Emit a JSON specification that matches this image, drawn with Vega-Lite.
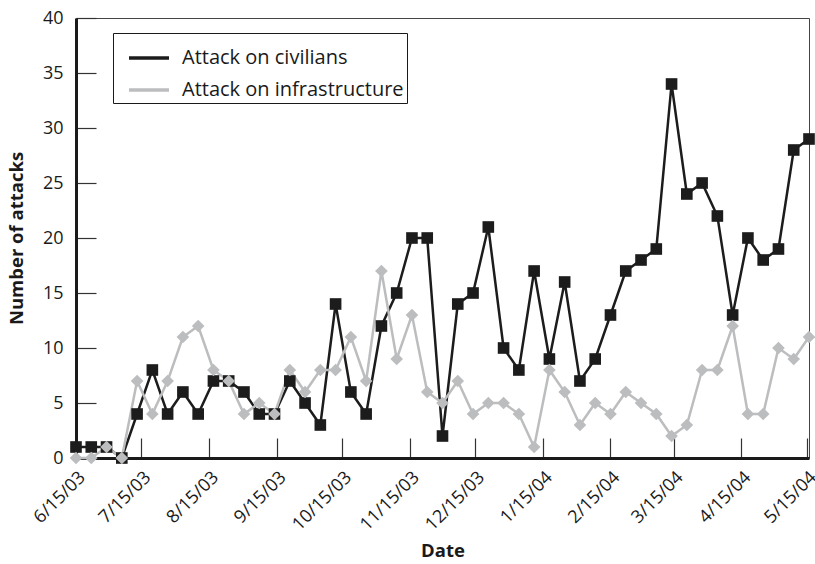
{
  "$schema": "https://vega.github.io/schema/vega-lite/v6.json",
  "width": 733,
  "height": 440,
  "autosize": {"type": "none"},
  "padding": {"left": 76, "top": 18, "right": 6, "bottom": 106},
  "background": "white",
  "config": {
    "font": "Open Sans",
    "view": {"stroke": "#444", "strokeWidth": 1},
    "axis": {"grid": false, "domainColor": "#1a1a1a", "domainWidth": 3, "tickColor": "#333", "tickWidth": 1.2, "labelColor": "#1a1a1a", "titleColor": "#1a1a1a", "labelFontSize": 18, "titleFontSize": 18.5, "titleFontWeight": "bold"}
  },
  "data": {
    "values": [
      {"date": "2003-06-15T00:00", "civ": 1, "infra": 0},
      {"date": "2003-06-22T00:00", "civ": 1, "infra": 0},
      {"date": "2003-06-29T00:00", "civ": 1, "infra": 1},
      {"date": "2003-07-06T00:00", "civ": 0, "infra": 0},
      {"date": "2003-07-13T00:00", "civ": 4, "infra": 7},
      {"date": "2003-07-20T00:00", "civ": 8, "infra": 4},
      {"date": "2003-07-27T00:00", "civ": 4, "infra": 7},
      {"date": "2003-08-03T00:00", "civ": 6, "infra": 11},
      {"date": "2003-08-10T00:00", "civ": 4, "infra": 12},
      {"date": "2003-08-17T00:00", "civ": 7, "infra": 8},
      {"date": "2003-08-24T00:00", "civ": 7, "infra": 7},
      {"date": "2003-08-31T00:00", "civ": 6, "infra": 4},
      {"date": "2003-09-07T00:00", "civ": 4, "infra": 5},
      {"date": "2003-09-14T00:00", "civ": 4, "infra": 4},
      {"date": "2003-09-21T00:00", "civ": 7, "infra": 8},
      {"date": "2003-09-28T00:00", "civ": 5, "infra": 6},
      {"date": "2003-10-05T00:00", "civ": 3, "infra": 8},
      {"date": "2003-10-12T00:00", "civ": 14, "infra": 8},
      {"date": "2003-10-19T00:00", "civ": 6, "infra": 11},
      {"date": "2003-10-26T00:00", "civ": 4, "infra": 7},
      {"date": "2003-11-02T00:00", "civ": 12, "infra": 17},
      {"date": "2003-11-09T00:00", "civ": 15, "infra": 9},
      {"date": "2003-11-16T00:00", "civ": 20, "infra": 13},
      {"date": "2003-11-23T00:00", "civ": 20, "infra": 6},
      {"date": "2003-11-30T00:00", "civ": 2, "infra": 5},
      {"date": "2003-12-07T00:00", "civ": 14, "infra": 7},
      {"date": "2003-12-14T00:00", "civ": 15, "infra": 4},
      {"date": "2003-12-21T00:00", "civ": 21, "infra": 5},
      {"date": "2003-12-28T00:00", "civ": 10, "infra": 5},
      {"date": "2004-01-04T00:00", "civ": 8, "infra": 4},
      {"date": "2004-01-11T00:00", "civ": 17, "infra": 1},
      {"date": "2004-01-18T00:00", "civ": 9, "infra": 8},
      {"date": "2004-01-25T00:00", "civ": 16, "infra": 6},
      {"date": "2004-02-01T00:00", "civ": 7, "infra": 3},
      {"date": "2004-02-08T00:00", "civ": 9, "infra": 5},
      {"date": "2004-02-15T00:00", "civ": 13, "infra": 4},
      {"date": "2004-02-22T00:00", "civ": 17, "infra": 6},
      {"date": "2004-02-29T00:00", "civ": 18, "infra": 5},
      {"date": "2004-03-07T00:00", "civ": 19, "infra": 4},
      {"date": "2004-03-14T00:00", "civ": 34, "infra": 2},
      {"date": "2004-03-21T00:00", "civ": 24, "infra": 3},
      {"date": "2004-03-28T00:00", "civ": 25, "infra": 8},
      {"date": "2004-04-04T00:00", "civ": 22, "infra": 8},
      {"date": "2004-04-11T00:00", "civ": 13, "infra": 12},
      {"date": "2004-04-18T00:00", "civ": 20, "infra": 4},
      {"date": "2004-04-25T00:00", "civ": 18, "infra": 4},
      {"date": "2004-05-02T00:00", "civ": 19, "infra": 10},
      {"date": "2004-05-09T00:00", "civ": 28, "infra": 9},
      {"date": "2004-05-16T00:00", "civ": 29, "infra": 11}
    ]
  },
  "transform": [
    {"fold": ["civ", "infra"], "as": ["key", "attacks"]},
    {"lookup": "key", "from": {"data": {"values": [
      {"key": "civ", "series": "Attack on civilians", "order": 1},
      {"key": "infra", "series": "Attack on infrastructure", "order": 2}
    ]}, "key": "key", "fields": ["series", "order"]}}
  ],
  "encoding": {
    "x": {
      "field": "date", "type": "temporal",
      "scale": {"domain": [{"year": 2003, "month": 6, "date": 15}, {"year": 2004, "month": 5, "date": 16}]},
      "axis": {
        "title": "Date",
        "format": "%-m/%d/%y",
        "values": [
          {"year": 2003, "month": 6, "date": 15},
          {"year": 2003, "month": 7, "date": 15},
          {"year": 2003, "month": 8, "date": 15},
          {"year": 2003, "month": 9, "date": 15},
          {"year": 2003, "month": 10, "date": 15},
          {"year": 2003, "month": 11, "date": 15},
          {"year": 2003, "month": 12, "date": 15},
          {"year": 2004, "month": 1, "date": 15},
          {"year": 2004, "month": 2, "date": 15},
          {"year": 2004, "month": 3, "date": 15},
          {"year": 2004, "month": 4, "date": 15},
          {"year": 2004, "month": 5, "date": 15}
        ],
        "labelAngle": -45,
        "labelPadding": 30,
        "tickSize": -20,
        "labelFlush": false,
        "labelOverlap": false,
        "labelBound": false,
        "titlePadding": 8
      }
    },
    "y": {
      "field": "attacks", "type": "quantitative",
      "scale": {"domain": [0, 40], "nice": false},
      "axis": {
        "title": "Number of attacks",
        "values": [0, 5, 10, 15, 20, 25, 30, 35, 40],
        "tickSize": -20,
        "labelPadding": 33,
        "labelFlush": false,
        "titlePadding": 16
      }
    }
  },
  "layer": [
    {
      "mark": {"type": "line", "strokeWidth": 2.5},
      "encoding": {
        "order": {"field": "date"},
        "color": {
          "field": "series", "type": "nominal",
          "scale": {"domain": ["Attack on civilians", "Attack on infrastructure"], "range": ["#1c1c1c", "#bcbdbf"]},
          "legend": {
            "title": null,
            "orient": "none",
            "legendX": 37,
            "legendY": 15,
            "direction": "vertical",
            "symbolType": "stroke",
            "symbolSize": 1600,
            "symbolStrokeWidth": 3.5,
            "symbolOffset": 11,
            "labelFontSize": 20,
            "labelOffset": 11,
            "labelLimit": 400,
            "rowPadding": -2,
            "padding": 3,
            "strokeColor": "#1a1a1a",
            "fillColor": "white",
            "labelColor": "#1a1a1a"
          }
        }
      }
    },
    {
      "mark": {"type": "point", "filled": true, "opacity": 1, "strokeWidth": 0},
      "encoding": {
        "fill": {"field": "key", "type": "nominal", "scale": {"domain": ["civ", "infra"], "range": ["#1c1c1c", "#bcbdbf"]}, "legend": null},
        "shape": {"field": "key", "type": "nominal", "scale": {"domain": ["civ", "infra"], "range": ["square", "diamond"]}, "legend": null},
        "size": {"field": "key", "type": "nominal", "scale": {"domain": ["civ", "infra"], "range": [135, 160]}, "legend": null},
        "order": {"field": "order"}
      }
    }
  ]
}
